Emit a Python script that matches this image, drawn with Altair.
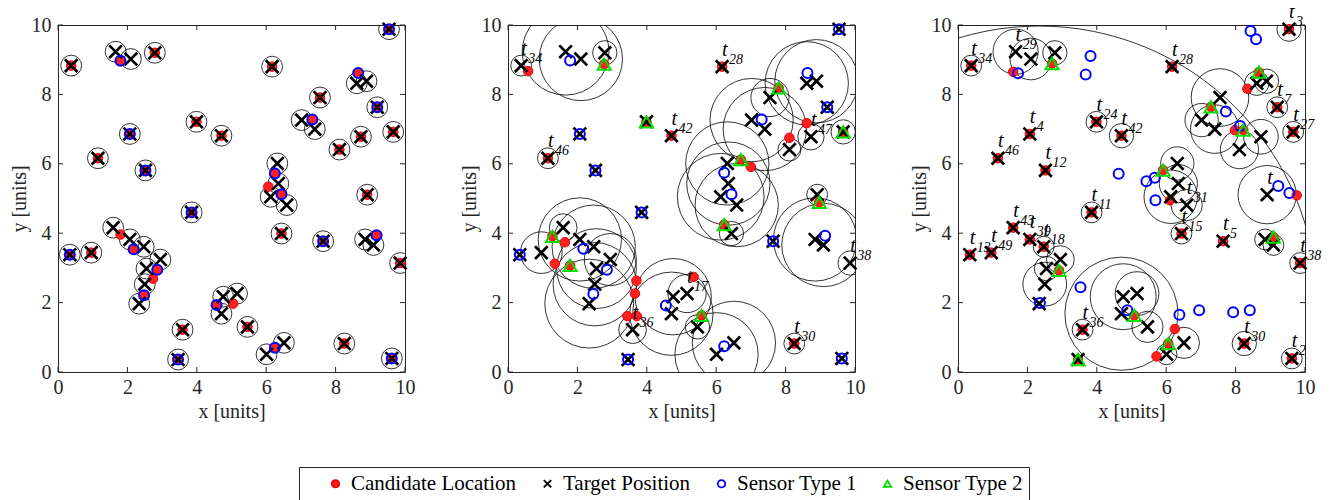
import altair as alt
import pandas as pd

FONT = "Liberation Serif"
INK = "#262626"

# ---------------- data ----------------
# target positions (identical in the three panels)
tgt_x = [0.38, 1.66, 2.10, 2.79, 6.17, 9.54, 8.61, 8.89, 9.20, 7.55,
         7.02, 7.40, 3.99, 4.71, 2.07, 1.15, 2.52, 8.11, 8.73, 9.66,
         6.32, 6.35, 6.13, 6.59, 8.91, 3.85, 0.34, 0.96, 1.59, 2.07,
         2.47, 2.55, 2.95, 2.50, 2.34, 3.59, 3.46, 4.76, 4.71, 5.16,
         5.46, 6.01, 6.51, 6.44, 7.64, 8.85, 9.09, 9.86, 8.25, 9.62]
tgt_y = [8.83, 9.23, 9.02, 9.20, 8.80, 9.88, 8.32, 8.38, 7.63, 7.91,
         7.26, 7.00, 7.21, 6.81, 6.86, 6.16, 5.81, 6.41, 6.78, 6.92,
         6.01, 5.43, 5.05, 4.81, 5.11, 4.60, 3.38, 3.44, 4.16, 3.82,
         3.61, 2.98, 3.24, 2.53, 1.97, 1.22, 0.36, 2.17, 1.68, 2.26,
         1.30, 0.51, 0.84, 3.99, 3.77, 3.82, 3.66, 3.14, 0.82, 0.39]

# panel 1
p1_cand_x = [0.38, 2.79, 6.17, 9.54, 9.20, 7.55, 3.99, 4.71, 2.07, 1.15, 2.52, 8.11, 8.73, 9.66,
             8.91, 3.85, 0.34, 0.96, 3.59, 3.46, 5.46, 6.44, 7.64, 9.86, 8.25, 9.62, 1.80, 8.65,
             7.33, 6.25, 6.06, 6.44, 1.80, 2.18, 2.86, 2.74, 2.48, 4.57, 5.05, 6.25, 9.18]
p1_cand_y = [8.83, 9.20, 8.80, 9.88, 7.63, 7.91, 7.21, 6.81, 6.86, 6.16, 5.81, 6.41, 6.78, 6.92,
             5.11, 4.60, 3.38, 3.44, 1.22, 0.36, 1.30, 3.99, 3.77, 3.14, 0.82, 0.39, 8.97, 8.62,
             7.28, 5.72, 5.34, 5.12, 3.96, 3.54, 2.95, 2.69, 2.21, 1.93, 1.97, 0.70, 3.94]
p1_s1_x = [9.54, 9.20, 2.07, 2.52, 3.85, 0.34, 3.46, 7.64, 9.62, 1.80,
           8.65, 7.33, 6.25, 6.44, 2.18, 2.86, 2.48, 4.57, 6.25, 9.18]
p1_s1_y = [9.88, 7.63, 6.86, 5.81, 4.60, 3.38, 0.36, 3.77, 0.39, 8.97,
           8.62, 7.28, 5.72, 5.12, 3.54, 2.95, 2.21, 1.93, 0.70, 3.94]
p1_s2_x = []
p1_s2_y = []
p1_circ_t = list(range(1, 51))
p1_circ_r = [0.30] * 50
p1_lab_t = []
p1_lab_n = []

# panel 2
p2_cand_x = [0.58, 2.77, 3.99, 7.80, 9.66, 6.71, 8.97, 6.23, 1.28, 1.79, 5.58, 6.17, 4.71,
             1.15, 8.61, 8.11, 7.00, 1.64, 1.35, 3.70, 3.66, 3.44, 3.71, 5.35, 8.25]
p2_cand_y = [8.67, 8.87, 7.21, 8.19, 6.92, 6.12, 4.89, 4.25, 3.91, 3.07, 1.63, 8.80, 6.81,
             6.16, 7.17, 6.75, 5.91, 3.74, 3.12, 2.63, 2.26, 1.61, 1.61, 2.74, 0.82]
p2_s1_x = [1.79, 9.54, 2.07, 2.52, 8.63, 9.20, 7.31, 6.23, 6.44, 3.85,
           0.34, 2.17, 2.85, 2.46, 3.46, 4.55, 6.23, 7.64, 9.14, 9.62]
p2_s1_y = [8.98, 9.88, 6.86, 5.81, 8.62, 7.63, 7.28, 5.74, 5.12, 4.60,
           3.38, 3.55, 2.95, 2.25, 0.36, 1.92, 0.74, 3.77, 3.93, 0.39]
p2_s2_x = [2.77, 3.99, 7.80, 9.66, 6.71, 8.97, 6.23, 1.28, 1.79, 5.58]
p2_s2_y = [8.87, 7.21, 8.19, 6.92, 6.12, 4.89, 4.25, 3.91, 3.07, 1.63]
p2_circ_t = [1, 2, 3, 4, 7, 8, 10, 11, 12, 16, 18, 19, 20, 21, 22, 23, 24, 25, 28,
             29, 30, 31, 32, 33, 34, 35, 36, 38, 39, 40, 41, 42, 43, 44, 46, 47, 48, 49]
p2_circ_r = [0.30, 1.25, 1.20, 0.35, 1.20, 1.20, 0.55, 1.20, 1.20, 0.30, 0.33, 0.38, 0.35,
             1.20, 1.20, 1.25, 1.20, 0.30, 0.60, 0.40, 1.20, 1.20, 1.15, 0.75, 1.20, 1.28,
             0.40, 1.10, 1.20, 0.55, 0.35, 1.20, 1.20, 0.35, 1.20, 1.20, 0.35, 0.30]
p2_lab_t = [1, 5, 14, 16, 19, 40, 36, 49, 48]
p2_lab_n = ["34", "28", "42", "46", "47", "17", "36", "30", "38"]

# panel 3
p3_cand_x = [0.38, 2.71, 1.59, 6.17, 9.54, 9.20, 9.66, 3.99, 4.71, 2.07, 1.15, 2.52, 8.34,
             8.67, 7.29, 7.98, 8.22, 5.91, 6.11, 9.76, 3.85, 0.34, 0.96, 1.59, 2.07, 2.47,
             2.91, 3.59, 3.46, 6.44, 7.64, 9.86, 8.25, 9.62, 5.08, 6.25, 5.72, 6.06, 9.09]
p3_cand_y = [8.83, 8.89, 8.65, 8.80, 9.88, 7.63, 6.92, 7.21, 6.81, 6.86, 6.16, 5.81, 8.16,
             8.64, 7.64, 6.97, 6.97, 5.82, 4.95, 5.09, 4.60, 3.38, 3.44, 4.16, 3.82, 3.61,
             2.93, 1.22, 0.36, 3.99, 3.77, 3.14, 0.82, 0.39, 1.63, 1.24, 0.45, 0.82, 3.89]
p3_s1_x = [1.73, 3.82, 3.68, 8.43, 8.59, 7.72, 8.13, 4.63, 5.43, 5.67,
           5.69, 9.23, 9.55, 2.36, 3.53, 4.88, 6.38, 6.95, 7.93, 8.41]
p3_s1_y = [8.61, 9.11, 8.57, 9.83, 9.59, 7.51, 7.09, 5.71, 5.50, 5.60,
           4.95, 5.36, 5.16, 1.99, 2.44, 1.78, 1.65, 1.78, 1.72, 1.78]
p3_s2_x = [2.71, 8.67, 7.29, 8.22, 5.91, 2.91, 3.46, 5.08, 6.06, 9.09]
p3_s2_y = [8.89, 8.64, 7.64, 6.97, 5.82, 2.93, 0.36, 1.63, 0.82, 3.89]
p3_circ_t = [1, 2, 3, 4, 6, 7, 8, 9, 10, 11, 12, 13, 14, 18, 19, 20, 21, 22, 23, 24,
             25, 26, 31, 32, 33, 34, 35, 36, 38, 39, 40, 41, 42, 43, 44, 46, 47, 48, 49, 50]
p3_circ_r = [0.30, 0.65, 0.60, 0.35, 0.35, 0.35, 0.35, 0.30, 0.83, 0.48, 0.70, 0.30, 0.35,
             0.55, 0.50, 0.30, 0.48, 0.55, 0.77, 0.45, 0.84, 0.30, 0.30, 0.35, 0.40, 0.63,
             8.00, 0.30, 0.95, 1.63, 0.63, 0.45, 0.30, 0.45, 0.30, 0.30, 0.30, 0.30, 0.35, 0.30]
p3_lab_t = [1, 2, 5, 6, 9, 20, 13, 14, 15, 16, 17, 26, 24, 44, 45, 48, 27, 28, 29, 30,
            31, 36, 49, 50, 25]
p3_lab_n = ["34", "29", "28", "3", "7", "27", "24", "42", "4", "46", "12", "11", "31", "15",
            "5", "38", "13", "49", "43", "39", "18", "36", "30", "2", ""]

tick_vals = [0, 2, 4, 6, 8, 10]
kinds = ["Candidate Location", "Target Position", "Sensor Type 1", "Sensor Type 2"]

# ---------------- scales / axes ----------------
W = 347
XPATH = "M-1,-1L1,1M-1,1L1,-1"
fill_sc = alt.Scale(domain=kinds, range=["#ff2020", "transparent", "transparent", "transparent"])
stroke_sc = alt.Scale(domain=kinds, range=["#ee0000", "#000000", "#0000ff", "#00e000"])
shape_sc = alt.Scale(domain=kinds, range=["circle", XPATH, "circle", "triangle-up"])
xs = alt.Scale(domain=[0, 10], nice=False, zero=False)
ys = alt.Scale(domain=[0, 10], nice=False, zero=False)
# point size = (diameter in px)^2 ; diameter = 2 * r * (W/10)
size_sc = alt.Scale(type="pow", exponent=2, domain=[0, 1], range=[0, (2 * W / 10) ** 2])

axis_common = dict(values=tick_vals, format="d", grid=False, domain=False, ticks=False,
                   tickSize=0, labelFlush=False, labelOverlap=False, labelFont=FONT,
                   labelFontSize=20, labelColor=INK, titleFont=FONT, titleFontSize=20,
                   titleFontWeight="normal", titleColor=INK)
xaxis = alt.Axis(title="x [units]", labelPadding=5, titlePadding=4, **axis_common)
yaxis = alt.Axis(title="y [units]", labelPadding=7, titlePadding=2, **axis_common)


def X(f="x"):
    return alt.X(f"{f}:Q", scale=xs, axis=xaxis)


def Y(f="y"):
    return alt.Y(f"{f}:Q", scale=ys, axis=yaxis)


def point_layer(xv, yv, kind, size, sw):
    df = pd.DataFrame({"x": xv, "y": yv, "kind": [kind] * len(xv)})
    return alt.Chart(df).mark_point(filled=True, size=size, strokeWidth=sw, opacity=1).encode(
        x=X(), y=Y(),
        fill=alt.Fill("kind:N", scale=fill_sc, title=None),
        stroke=alt.Stroke("kind:N", scale=stroke_sc, title=None),
        shape=alt.Shape("kind:N", scale=shape_sc, title=None),
    )


def panel(cx, cy, s1x, s1y, s2x, s2y, ct, cr, lt, ln):
    layers = []
    cdf = pd.DataFrame({"x": [tgt_x[i - 1] for i in ct], "y": [tgt_y[i - 1] for i in ct], "r": cr})
    layers.append(alt.Chart(cdf).mark_point(shape="circle", filled=False, stroke="black",
                                            strokeWidth=0.8, opacity=1, clip=True).encode(
        x=X(), y=Y(), size=alt.Size("r:Q", scale=size_sc, legend=None)))
    layers.append(point_layer(cx, cy, kinds[0], 90, 1))
    layers.append(point_layer(tgt_x, tgt_y, kinds[1], 160, 2.7))
    layers.append(point_layer(s1x, s1y, kinds[2], 100, 2))
    if s2x:
        layers.append(point_layer(s2x, s2y, kinds[3], 170, 2))
    if lt:
        ldf = pd.DataFrame({"x": [tgt_x[i - 1] for i in lt], "y": [tgt_y[i - 1] for i in lt], "n": ln})
        layers.append(alt.Chart(ldf).mark_text(text="t", align="left", baseline="alphabetic",
                                               dx=0, dy=-11, font=FONT, fontSize=20,
                                               fontStyle="italic", color="black").encode(x=X(), y=Y()))
        layers.append(alt.Chart(ldf).mark_text(align="left", baseline="alphabetic", dx=7, dy=-3,
                                               font=FONT, fontSize=14, fontStyle="italic",
                                               color="black").encode(x=X(), y=Y(), text="n:N"))
    tdf = pd.DataFrame({"v": tick_vals})
    tk = alt.Chart(tdf).mark_rule(color=INK, strokeWidth=1)
    layers.append(tk.encode(x=alt.X("v:Q", scale=xs, axis=xaxis), y=alt.value(W), y2=alt.value(W - 5)))
    layers.append(tk.encode(x=alt.X("v:Q", scale=xs, axis=xaxis), y=alt.value(0), y2=alt.value(5)))
    layers.append(tk.encode(y=alt.Y("v:Q", scale=ys, axis=yaxis), x=alt.value(0), x2=alt.value(5)))
    layers.append(tk.encode(y=alt.Y("v:Q", scale=ys, axis=yaxis), x=alt.value(W), x2=alt.value(W - 5)))
    return alt.layer(*layers).properties(width=W, height=W)


p1 = panel(p1_cand_x, p1_cand_y, p1_s1_x, p1_s1_y, p1_s2_x, p1_s2_y, p1_circ_t, p1_circ_r, p1_lab_t, p1_lab_n)
p2 = panel(p2_cand_x, p2_cand_y, p2_s1_x, p2_s1_y, p2_s2_x, p2_s2_y, p2_circ_t, p2_circ_r, p2_lab_t, p2_lab_n)
p3 = panel(p3_cand_x, p3_cand_y, p3_s1_x, p3_s1_y, p3_s2_x, p3_s2_y, p3_circ_t, p3_circ_r, p3_lab_t, p3_lab_n)

chart = alt.hconcat(p1, p2, p3, spacing=103, bounds="flush").properties(
    padding={"left": 0, "top": -7, "right": 0, "bottom": 0}
).configure_view(stroke=INK, strokeWidth=1).configure_legend(
    orient="none", legendX=241, legendY=442, direction="horizontal", columns=4,
    labelFont=FONT, labelFontSize=21, labelColor="black", labelLimit=0,
    symbolSize=55, symbolStrokeWidth=1.8, symbolOffset=20, labelOffset=5, columnPadding=-11,
    padding=6, strokeColor=INK, fillColor="white", cornerRadius=0,
)

chart.save("out.html", embed_options={"renderer": "svg", "actions": False})
